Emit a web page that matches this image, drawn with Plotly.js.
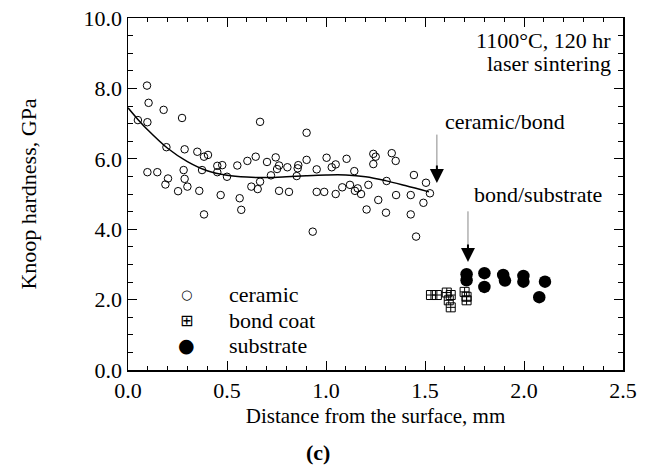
<!DOCTYPE html>
<html>
<head>
<meta charset="utf-8">
<script src="https://cdn.plot.ly/plotly-3.0.1.min.js"></script>
<style>html,body{margin:0;padding:0;background:#fff;}#chart{width:654px;height:466px;}</style>
</head>
<body>
<div id="chart"></div>
<script>
// Ceramic layer hardness (GPa) vs distance from surface (mm)
const ceramicX = [0.096,0.104,0.18,0.05,0.098,0.273,0.194,0.286,0.35,0.384,0.404,0.098,0.148,0.202,0.189,0.281,0.286,0.30,0.253,0.36,0.374,0.384,0.451,0.476,0.451,0.50,0.468,0.552,0.603,0.564,0.572,0.623,0.655,0.667,0.645,0.667,
  0.902,0.702,0.746,0.763,0.753,0.805,0.86,0.857,0.902,0.953,1.003,1.049,1.029,1.104,1.143,1.239,1.251,1.239,0.722,0.763,0.813,0.852,0.953,0.991,1.049,1.082,1.121,1.146,1.16,1.177,1.214,1.264,1.205,0.933,
  1.332,1.352,1.444,1.306,1.505,1.525,1.354,1.428,1.492,1.303,1.428,1.455];
const ceramicY = [8.08,7.59,7.39,7.10,7.04,7.16,6.33,6.27,6.20,6.06,6.11,5.62,5.62,5.44,5.27,5.68,5.43,5.21,5.08,5.09,5.68,4.42,5.80,5.82,5.62,5.49,4.97,5.81,5.94,4.88,4.55,5.21,5.14,5.35,6.06,7.05,
  6.74,5.91,6.04,5.81,5.71,5.76,5.82,5.73,5.97,5.70,6.03,5.84,5.76,6.00,5.65,6.14,6.06,5.85,5.53,5.09,5.06,5.51,5.06,5.06,5.00,5.19,5.26,5.09,5.16,5.00,5.26,4.83,4.56,3.93,
  6.16,5.94,5.54,5.37,5.32,5.02,4.97,4.97,4.75,4.47,4.42,3.79];

// Bond coat
const bondX = [1.53,1.56,1.61,1.63,1.62,1.63,1.70,1.71,1.71];
const bondY = [2.13,2.13,2.20,2.13,1.98,1.78,2.22,2.08,1.98];

// Substrate
const subX = [1.71,1.71,1.80,1.80,1.895,1.904,1.997,1.997,2.106,2.077];
const subY = [2.72,2.55,2.75,2.36,2.70,2.54,2.67,2.51,2.51,2.07];

// Fit curve through ceramic data
const fitX = [0,0.05,0.1,0.2,0.3,0.4,0.5,0.6,0.7,0.8,0.9,1.0,1.1,1.2,1.3,1.4,1.52];
const fitY = [7.45,7.12,6.82,6.30,5.92,5.66,5.53,5.48,5.47,5.49,5.52,5.54,5.54,5.49,5.38,5.24,5.06];

// Tick labels
const xTicks = [0,0.5,1.0,1.5,2.0,2.5];
const xTickText = ["0.0","0.5","1.0","1.5","2.0","2.5"];
const yTicks = [0,2,4,6,8,10];
const yTickText = ["0.0","2.0","4.0","6.0","8.0","10.0"];

// Legend entries
const legendNames = ["ceramic","bond coat","substrate"];
const legendGlyphs = ["\u25CB","\u229E","\u25CF"];

const serif = "Liberation Serif";

const traces = [
  {x: fitX, y: fitY, mode: 'lines', line: {color: '#000', width: 1.5, shape: 'spline'}, showlegend: false, hoverinfo: 'skip'},
  {x: ceramicX, y: ceramicY, mode: 'markers', name: legendNames[0], showlegend: false,
   marker: {symbol: 'circle-open', size: 7.5, color: '#000', line: {width: 1}}},
  {x: bondX, y: bondY, mode: 'markers', name: legendNames[1], showlegend: false,
   marker: {symbol: 'square-cross-open', size: 9, color: '#000', line: {width: 1}}},
  {x: subX, y: subY, mode: 'markers', name: legendNames[2], showlegend: false,
   marker: {symbol: 'circle', size: 12.5, color: '#000'}}
];

const axisCommon = {
  showgrid: false, zeroline: false, showline: true, linecolor: '#000', linewidth: 1.5,
  mirror: 'allticks', ticks: 'inside', ticklen: 9, tickwidth: 1, tickcolor: '#000',
  tickfont: {family: serif, size: 22, color: '#000'}
};

const legendY = [0.2131, 0.142, 0.071];
const glyphSizes = [13, 16, 19];
const legendAnnots = [];
for (let i = 0; i < legendNames.length; i++) {
  legendAnnots.push({xref: 'paper', yref: 'paper', x: 0.119, y: legendY[i], xanchor: 'center', yanchor: 'middle',
    showarrow: false, text: legendGlyphs[i], font: {family: 'DejaVu Sans', size: glyphSizes[i], color: '#000'}});
  legendAnnots.push({xref: 'paper', yref: 'paper', x: 0.2, y: legendY[i], xanchor: 'left', yanchor: 'middle',
    showarrow: false, text: legendNames[i], font: {family: serif, size: 22, color: '#000'}});
}

const layout = {
  width: 654, height: 466,
  margin: {l: 128, r: 31, t: 18, b: 96},
  paper_bgcolor: '#fff', plot_bgcolor: '#fff',
  font: {family: serif, color: '#000', size: 22},
  showlegend: false,
  xaxis: Object.assign({}, axisCommon, {
    range: [0, 2.5], tickvals: xTicks, ticktext: xTickText,
    minor: {dtick: 0.1, ticks: 'inside', ticklen: 4, tickcolor: '#000', tickwidth: 1},
    title: {text: 'Distance from the surface, mm', font: {family: serif, size: 21, color: '#000'}, standoff: 6}
  }),
  yaxis: Object.assign({}, axisCommon, {
    range: [0, 10], tickvals: yTicks, ticktext: yTickText,
    minor: {dtick: 0.5, ticks: 'inside', ticklen: 5, tickcolor: '#000', tickwidth: 1},
    title: {text: 'Knoop hardness, GPa', font: {family: serif, size: 22, color: '#000'}, standoff: 41}
  }),
  annotations: [
    {xref: 'paper', yref: 'paper', x: 0.98, y: 0.9375, xanchor: 'right', yanchor: 'middle', showarrow: false,
     text: '1100°C, 120 hr', font: {family: serif, size: 22}},
    {xref: 'paper', yref: 'paper', x: 0.98, y: 0.872, xanchor: 'right', yanchor: 'middle', showarrow: false,
     text: 'laser sintering', font: {family: serif, size: 22}},
    {xref: 'x', yref: 'y', x: 1.59, y: 7.06, xanchor: 'left', yanchor: 'middle', showarrow: false,
     text: 'ceramic/bond', font: {family: serif, size: 22}},
    {xref: 'x', yref: 'y', x: 1.735, y: 5.0, xanchor: 'left', yanchor: 'middle', showarrow: false,
     text: 'bond/substrate', font: {family: serif, size: 22}},
    // arrow shafts (grey)
    {xref: 'x', yref: 'y', axref: 'x', ayref: 'y', x: 1.56, y: 5.45, ax: 1.56, ay: 6.73,
     showarrow: true, arrowhead: 0, arrowwidth: 1, arrowcolor: '#888', text: ''},
    {xref: 'x', yref: 'y', axref: 'x', ayref: 'y', x: 1.717, y: 3.2, ax: 1.717, ay: 4.55,
     showarrow: true, arrowhead: 0, arrowwidth: 1, arrowcolor: '#888', text: ''},
    // arrow heads (black)
    {xref: 'x', yref: 'y', axref: 'x', ayref: 'y', x: 1.56, y: 5.31, ax: 1.56, ay: 5.85,
     showarrow: true, arrowhead: 2, arrowsize: 1.4, arrowwidth: 2, arrowcolor: '#000', text: ''},
    {xref: 'x', yref: 'y', axref: 'x', ayref: 'y', x: 1.717, y: 3.07, ax: 1.717, ay: 3.61,
     showarrow: true, arrowhead: 2, arrowsize: 1.4, arrowwidth: 2, arrowcolor: '#000', text: ''},
    {xref: 'paper', yref: 'paper', x: (318-128)/495, y: -0.235, xanchor: 'center', yanchor: 'middle', showarrow: false,
     text: '<b>(c)</b>', font: {family: serif, size: 22}}
  ].concat(legendAnnots)
};

Plotly.newPlot('chart', traces, layout, {displayModeBar: false, staticPlot: true});
</script>
</body>
</html>
